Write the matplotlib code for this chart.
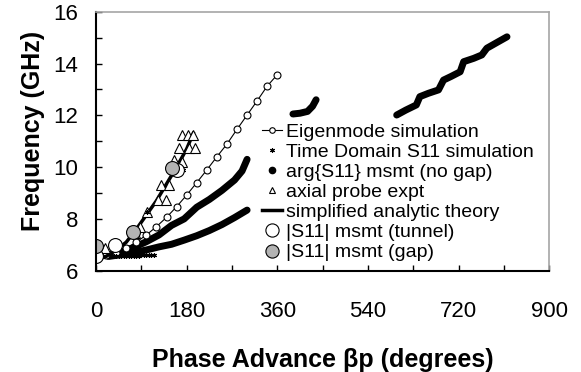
import matplotlib
matplotlib.use('Agg')
import matplotlib.pyplot as plt
from matplotlib.lines import Line2D

plt.rcParams['font.family'] = ['Liberation Sans', 'DejaVu Sans']

# Eigenmode simulation (open circles, thin line)
eig_x = [0, 20, 40, 60, 80, 100, 120, 140, 160, 180, 200, 220, 240, 260, 280, 300, 320, 340, 360]
eig_y = [6.55, 6.6, 6.7, 6.87, 7.1, 7.38, 7.7, 8.06, 8.47, 8.92, 9.4, 9.89, 10.4, 10.89, 11.46, 12.01, 12.56, 13.13, 13.57]

# Time Domain S11 simulation (tiny stars)
td_x = [30, 35, 40, 45, 50, 55, 60, 65, 70, 75, 80, 85, 90, 95, 100, 105, 110, 115, 101, 158, 165, 172]
td_y = [6.55, 6.55, 6.55, 6.56, 6.56, 6.56, 6.57, 6.57, 6.57, 6.58, 6.58, 6.58, 6.59, 6.59, 6.6, 6.6, 6.61, 6.62, 8.28, 9.76, 9.8, 9.9]

# arg{S11} msmt (no gap) - dense filled circles, several branches
arg1_x = [0, 25, 50, 75, 100, 125, 150, 175, 200, 225, 250, 275, 290, 300]
arg1_y = [6.55, 6.6, 6.72, 6.9, 7.12, 7.38, 7.75, 8.0, 8.45, 8.75, 9.1, 9.5, 9.85, 10.3]
arg2_x = [25, 50, 75, 100, 125, 150, 175, 200, 225, 250, 275, 300]
arg2_y = [6.55, 6.62, 6.7, 6.8, 6.92, 7.02, 7.18, 7.35, 7.55, 7.78, 8.05, 8.34]
arg3_x = [391, 405, 420, 430, 437]
arg3_y = [12.05, 12.08, 12.15, 12.35, 12.6]
arg4_x = [597, 615, 636, 643, 660, 680, 690, 705, 723, 730, 750, 766, 776, 795, 816]
arg4_y = [12.01, 12.2, 12.4, 12.72, 12.85, 12.98, 13.36, 13.5, 13.68, 14.07, 14.2, 14.33, 14.59, 14.8, 15.03]

# axial probe expt (open triangles)
ax_x = [18, 78, 88, 101, 124, 139, 130, 144, 154, 171, 164, 184, 197, 171, 183, 193]
ax_y = [6.87, 7.45, 7.7, 8.28, 8.73, 8.73, 9.3, 9.3, 10.27, 10.2, 10.75, 10.75, 10.75, 11.24, 11.24, 11.24]

# simplified analytic theory (thick line)
th_x = [0, 20, 40, 60, 80, 100, 120, 140, 160, 180, 193]
th_y = [6.5, 6.55, 6.8, 7.1, 7.6, 8.15, 8.7, 9.35, 10.0, 10.7, 11.3]

# |S11| msmt (tunnel) and (gap)
tun_x = [0, 38, 161]
tun_y = [6.55, 7.0, 9.9]
gap_x = [0, 73, 151]
gap_y = [6.95, 7.5, 9.97]

fig = plt.figure(figsize=(5.81, 3.72), dpi=100)
ax = fig.add_axes([96 / 581, 1 - 270.7 / 372, 453.3 / 581, 259 / 372])

band = dict(color='black', lw=5, solid_capstyle='round', solid_joinstyle='round')
ax.plot(arg1_x, arg1_y, **band)
ax.plot(arg2_x, arg2_y, **band)
ax.plot(arg3_x, arg3_y, **band)
ax.plot(arg4_x, arg4_y, **band)
ax.plot(eig_x, eig_y, '-o', color='black', lw=0.8, ms=5, mfc='white', mew=0.8)
ax.plot(th_x, th_y, '-', color='black', lw=2.5)
ax.plot(ax_x, ax_y, '^', color='black', ms=6.5, mfc='white', mew=0.8, ls='none')
ax.plot(td_x, td_y, marker=(6, 2, 0), color='black', ms=3.5, mew=0.8, ls='none')
ax.plot(tun_x, tun_y, 'o', ms=10, mfc='white', mec='black', mew=0.8, ls='none')
ax.plot(gap_x, gap_y, 'o', ms=10, mfc='#b3b3b3', mec='black', mew=0.8, ls='none')

ax.set_xlim(0, 900)
ax.set_ylim(6, 16)
ax.set_xticks([0, 180, 360, 540, 720, 900])
ax.set_xticks(range(0, 901, 90), minor=True)
ax.set_yticks([6, 8, 10, 12, 14, 16])
ax.set_yticks(range(6, 17), minor=True)
ax.tick_params(which='both', direction='in', length=4, width=1, labelsize=16)
ax.tick_params(axis='x', pad=22)
ax.tick_params(axis='y', pad=13)
ax.tick_params(top=False, right=False, which='both')

for s in ['left', 'bottom']:
    ax.spines[s].set_linewidth(1.5)
for s in ['top', 'right']:
    ax.spines[s].set_color('#a6a6a6')
    ax.spines[s].set_linewidth(1.2)

ax.set_xlabel('Phase Advance \u03b2p (degrees)', fontsize=18, fontweight='bold')
ax.set_ylabel('Frequency (GHz)', fontsize=18, fontweight='bold')
ax.xaxis.set_label_coords(0.5, -0.298)
ax.yaxis.set_label_coords(-0.1125, 0.54)

handles = [
    Line2D([], [], color='black', lw=0.8, marker='o', ms=4, mfc='white', mew=0.8),
    Line2D([], [], color='black', ls='none', marker=(6, 2, 0), ms=3.5, mew=0.8),
    Line2D([], [], color='black', ls='none', marker='o', ms=4.5),
    Line2D([], [], color='black', ls='none', marker='^', ms=5, mfc='white', mew=0.8),
    Line2D([], [], color='black', lw=2.5),
    Line2D([], [], ls='none', marker='o', ms=9.5, mfc='white', mec='black', mew=0.8),
    Line2D([], [], ls='none', marker='o', ms=9.5, mfc='#b3b3b3', mec='black', mew=0.8),
]
labels = ['Eigenmode simulation', 'Time Domain S11 simulation', 'arg{S11} msmt (no gap)',
          'axial probe expt', 'simplified analytic theory', '|S11| msmt (tunnel)', '|S11| msmt (gap)']
ax.legend(handles, labels, loc='upper left', bbox_to_anchor=(261.7 / 581, 1 - 123 / 372),
          bbox_transform=fig.transFigure, frameon=False, fontsize=14, borderpad=0,
          borderaxespad=0, handlelength=1.03, handletextpad=0.22, labelspacing=0.13)

fig.savefig('out.png', dpi=100)
